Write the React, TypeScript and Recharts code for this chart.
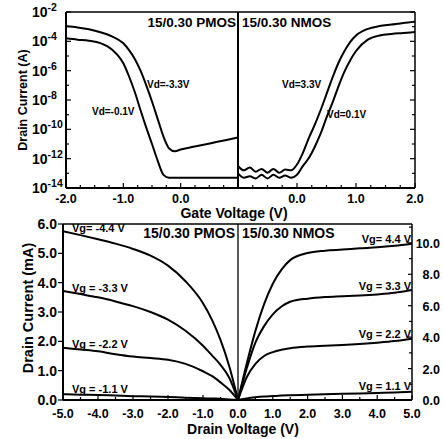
import { LineChart, Line, XAxis, YAxis, ReferenceLine } from "recharts"

const FONT = "'Liberation Sans', Arial, Helvetica, sans-serif"

// ---- top panel: transfer curves (Id vs Vg), log scale ----
const pmosVg = [-2.0, -1.8, -1.6, -1.4, -1.2, -1.0, -0.9, -0.8, -0.7, -0.6, -0.5, -0.4, -0.3, -0.2, -0.1, 0.0, 0.2, 0.4, 0.6, 0.8, 1.0]
const pmosIdVd33 = [1.1e-3, 8.9e-4, 6.6e-4, 4.2e-4, 2.2e-4, 7.4e-5, 2.5e-5, 6.3e-6, 1.0e-6, 1.0e-7, 7.9e-9, 5.0e-10, 3.2e-11, 5.0e-12, 3.2e-12, 4.2e-12, 6.2e-12, 8.9e-12, 1.3e-11, 1.9e-11, 2.8e-11]
const pmosIdVd01 = [1.6e-4, 1.3e-4, 1.1e-4, 7.6e-5, 2.8e-5, 3.2e-6, 4.0e-7, 3.5e-8, 2.0e-9, 1.3e-10, 1.0e-11, 7.1e-13, 7.9e-14, 5.0e-14, 5.0e-14, 5.0e-14, 5.0e-14, 5.0e-14, 5.0e-14, 5.0e-14, 5.0e-14]

const nmosVg = [-1.0, -0.9, -0.8, -0.7, -0.6, -0.5, -0.4, -0.3, -0.2, -0.1, 0.0, 0.1, 0.2, 0.3, 0.4, 0.5, 0.6, 0.7, 0.8, 0.9, 1.0, 1.2, 1.4, 1.6, 1.8, 2.0]
const nmosIdVd33 = [3.2e-13, 1.6e-13, 2.5e-13, 1.3e-13, 2.0e-13, 1.1e-13, 2.0e-13, 1.1e-13, 1.8e-13, 1.6e-13, 4.0e-13, 2.5e-12, 2.5e-11, 2.0e-10, 2.0e-9, 2.5e-8, 3.2e-7, 3.2e-6, 2.0e-5, 8.9e-5, 2.5e-4, 7.1e-4, 1.1e-3, 1.4e-3, 1.8e-3, 2.2e-3]
const nmosIdVd01 = [1.0e-13, 5.0e-14, 6.3e-14, 4.5e-14, 7.9e-14, 4.5e-14, 7.9e-14, 5.0e-14, 7.1e-14, 5.0e-14, 7.9e-14, 3.2e-13, 1.1e-12, 6.3e-12, 5.0e-11, 6.3e-10, 6.3e-9, 7.9e-8, 7.9e-7, 5.0e-6, 2.2e-5, 1.3e-4, 2.5e-4, 3.2e-4, 3.7e-4, 4.3e-4]

const logTicks = [1e-14, 1e-13, 1e-12, 1e-11, 1e-10, 1e-9, 1e-8, 1e-7, 1e-6, 1e-5, 1e-4, 1e-3, 1e-2]
const gateTicksLeft = [-2, -1.75, -1.5, -1.25, -1, -0.75, -0.5, -0.25, 0, 0.25, 0.5, 0.75, 1]
const gateTicksRight = [-1, -0.75, -0.5, -0.25, 0, 0.25, 0.5, 0.75, 1, 1.25, 1.5, 1.75, 2]
const gateLabelsLeft = [-2, -1, 0]
const gateLabelsRight = [0, 1, 2]

// ---- bottom panel: output curves (Id vs Vd), mA ----
const pmosVd = [-5, -4.5, -4, -3.5, -3, -2.5, -2, -1.5, -1, -0.75, -0.5, -0.25, 0]
const pmosVg44 = [5.75, 5.62, 5.48, 5.33, 5.15, 4.92, 4.58, 4.05, 3.3, 2.75, 2.05, 1.15, 0]
const pmosVg33 = [3.72, 3.61, 3.5, 3.36, 3.2, 3.0, 2.74, 2.36, 1.85, 1.53, 1.2, 0.76, 0]
const pmosVg22 = [1.78, 1.72, 1.66, 1.56, 1.48, 1.43, 1.37, 1.23, 0.98, 0.82, 0.6, 0.35, 0]
const pmosVg11 = [0.2, 0.18, 0.17, 0.15, 0.13, 0.12, 0.1, 0.08, 0.06, 0.05, 0.04, 0.02, 0]

const nmosVd = [0, 0.25, 0.5, 0.75, 1, 1.25, 1.5, 2, 2.5, 3, 3.5, 4, 4.5, 5]
const nmosVg44 = [0, 2.3, 4.4, 6.1, 7.4, 8.3, 8.9, 9.35, 9.5, 9.57, 9.65, 9.72, 9.82, 9.95]
const nmosVg33 = [0, 2.0, 3.65, 4.7, 5.45, 5.95, 6.25, 6.45, 6.55, 6.6, 6.65, 6.72, 6.82, 7.0]
const nmosVg22 = [0, 1.45, 2.3, 2.8, 3.05, 3.2, 3.3, 3.4, 3.45, 3.5, 3.57, 3.65, 3.75, 3.9]
const nmosVg11 = [0, 0.1, 0.17, 0.22, 0.25, 0.28, 0.3, 0.33, 0.36, 0.39, 0.42, 0.45, 0.48, 0.52]

const drainTicksLeft = [-5, -4.5, -4, -3.5, -3, -2.5, -2, -1.5, -1, -0.5, 0]
const drainTicksRight = [0, 0.5, 1, 1.5, 2, 2.5, 3, 3.5, 4, 4.5, 5]
const drainLabelsLeft = [-5, -4, -3, -2, -1]
const drainLabelsRight = [0, 1, 2, 3, 4, 5]
const pmosCurrentTicks = [0, 1, 2, 3, 4, 5, 6]
const nmosCurrentTicks = [0, 1, 2, 3, 4, 5, 6, 7, 8, 9, 10, 11]
const nmosCurrentLabels = [0, 2, 4, 6, 8, 10]

// annotation texts
const pmosVdLabels = ["Vd=-3.3V", "Vd=-0.1V"]
const nmosVdLabels = ["Vd=3.3V", "Vd=0.1V"]
const pmosVgLabels = ["Vg= -4.4 V", "Vg = -3.3 V", "Vg = -2.2 V", "Vg = -1.1 V"]
const nmosVgLabels = ["Vg= 4.4 V", "Vg = 3.3 V", "Vg = 2.2 V", "Vg = 1.1 V"]

const pmosTransfer = pmosVg.map((v, i) => ({ v, hi: pmosIdVd33[i], lo: pmosIdVd01[i] }))
const nmosTransfer = nmosVg.map((v, i) => ({ v, hi: nmosIdVd33[i], lo: nmosIdVd01[i] }))
const pmosOutput = pmosVd.map((v, i) => ({ v, a: pmosVg44[i], b: pmosVg33[i], c: pmosVg22[i], d: pmosVg11[i] }))
const nmosOutput = nmosVd.map((v, i) => ({ v, a: nmosVg44[i], b: nmosVg33[i], c: nmosVg22[i], d: nmosVg11[i] }))

const txt = { fontFamily: FONT, fontWeight: 700, fill: "#000" } as const

// x ticks drawn inward, label under the axis
const xTick = (labels: number[], size: number, dy: number) => (props: any) => {
	const { x, y, payload } = props
	const v = payload.value
	const major = Number.isInteger(v)
	return (
		<g>
			<line x1={x} x2={x} y1={y} y2={y - (major ? 5 : 3)} stroke="#000" strokeWidth={1.2} />
			{labels.includes(v) && (
				<text x={x} y={y + dy} textAnchor="middle" fontSize={size} {...txt}>
					{v.toFixed(1)}
				</text>
			)}
		</g>
	)
}

const logTick = (withLabel: boolean, side: number) => (props: any) => {
	const { x, y, payload } = props
	const exp = Math.round(Math.log10(payload.value))
	const major = exp % 2 === 0
	return (
		<g>
			<line x1={x} x2={x + side * (major ? 5 : 3)} y1={y} y2={y} stroke="#000" strokeWidth={1.2} />
			{withLabel && major && (
				<text x={x - 34} y={y + 5} fontSize={14} {...txt}>
					10
					<tspan dy={-6} fontSize={10.5}>
						{String(exp)}
					</tspan>
				</text>
			)}
		</g>
	)
}

const pmosYTick = (props: any) => {
	const { x, y, payload } = props
	return (
		<g>
			<line x1={x - 5} x2={x} y1={y} y2={y} stroke="#000" strokeWidth={1.2} />
			<text x={x - 6} y={y + 5} textAnchor="end" fontSize={14} {...txt}>
				{payload.value.toFixed(1)}
			</text>
		</g>
	)
}

const nmosYTick = (props: any) => {
	const { x, y, payload } = props
	const labeled = nmosCurrentLabels.includes(payload.value)
	return (
		<g>
			<line x1={x - (labeled ? 4 : 3)} x2={x} y1={y} y2={y} stroke="#000" strokeWidth={1.2} />
			{labeled && (
				<text x={x + 28} y={y + 5} textAnchor="end" fontSize={12.5} {...txt}>
					{payload.value.toFixed(1)}
				</text>
			)}
		</g>
	)
}

const curve = { type: "monotone" as const, stroke: "#000", strokeWidth: 2, dot: false, isAnimationActive: false }

export default function App() {
	return (
		<div style={{ position: "absolute", left: 0, top: 0, width: 443, height: 439, background: "#fff", fontFamily: FONT }}>
			{/* PMOS transfer */}
			<div style={{ position: "absolute", left: 0, top: 0 }}>
				<LineChart width={240} height={220} data={pmosTransfer} margin={{ top: 12, right: 2, left: 0, bottom: 0 }}>
					<XAxis type="number" dataKey="v" domain={[-2, 1]} ticks={gateTicksLeft} interval={0} height={32} tickSize={0} tickMargin={0} tickLine={false} axisLine={{ stroke: "#000", strokeWidth: 2 }} tick={xTick(gateLabelsLeft, 12.5, 15)} allowDataOverflow />
					<YAxis scale="log" domain={[1e-14, 1e-2]} ticks={logTicks} interval={0} width={66} tickSize={0} tickMargin={0} tickLine={false} axisLine={{ stroke: "#000", strokeWidth: 2 }} tick={logTick(true, 1)} allowDataOverflow />
					<ReferenceLine y={1e-2} stroke="#000" strokeWidth={1.5} />
					<ReferenceLine x={1} stroke="#000" strokeWidth={2} />
					<Line dataKey="hi" {...curve} />
					<Line dataKey="lo" {...curve} />
				</LineChart>
			</div>
			{/* NMOS transfer */}
			<div style={{ position: "absolute", left: 200, top: 0 }}>
				<LineChart width={243} height={220} data={nmosTransfer} margin={{ top: 12, right: 0, left: 38, bottom: 0 }}>
					<XAxis type="number" dataKey="v" domain={[-1, 2]} ticks={gateTicksRight} interval={0} height={32} tickSize={0} tickMargin={0} tickLine={false} axisLine={{ stroke: "#000", strokeWidth: 2 }} tick={xTick(gateLabelsRight, 12.5, 15)} allowDataOverflow />
					<YAxis yAxisId="r" orientation="right" scale="log" domain={[1e-14, 1e-2]} ticks={logTicks} interval={0} width={28} tickSize={0} tickMargin={0} tickLine={false} axisLine={{ stroke: "#000", strokeWidth: 1.5 }} tick={logTick(false, -1)} allowDataOverflow />
					<ReferenceLine yAxisId="r" y={1e-2} stroke="#000" strokeWidth={1.5} />
					<Line yAxisId="r" dataKey="hi" {...curve} />
					<Line yAxisId="r" dataKey="lo" {...curve} />
				</LineChart>
			</div>
			{/* PMOS output */}
			<div style={{ position: "absolute", left: 0, top: 212 }}>
				<LineChart width={240} height={227} data={pmosOutput} margin={{ top: 12, right: 2, left: 0, bottom: 0 }}>
					<XAxis type="number" dataKey="v" domain={[-5, 0]} ticks={drainTicksLeft} interval={0} height={39} tickSize={0} tickMargin={0} tickLine={false} axisLine={{ stroke: "#000", strokeWidth: 2 }} tick={xTick(drainLabelsLeft, 12.5, 18)} allowDataOverflow />
					<YAxis type="number" domain={[0, 6]} ticks={pmosCurrentTicks} interval={0} width={63} tickSize={0} tickMargin={0} tickLine={false} axisLine={{ stroke: "#000", strokeWidth: 2 }} tick={pmosYTick} allowDataOverflow />
					<ReferenceLine y={6} stroke="#000" strokeWidth={1.5} />
					<ReferenceLine x={0} stroke="#000" strokeWidth={1.3} />
					<Line dataKey="a" {...curve} />
					<Line dataKey="b" {...curve} />
					<Line dataKey="c" {...curve} />
					<Line dataKey="d" {...curve} />
				</LineChart>
			</div>
			{/* NMOS output */}
			<div style={{ position: "absolute", left: 200, top: 212 }}>
				<LineChart width={243} height={227} data={nmosOutput} margin={{ top: 12, right: 0, left: 38, bottom: 0 }}>
					<XAxis type="number" dataKey="v" domain={[0, 5]} ticks={drainTicksRight} interval={0} height={39} tickSize={0} tickMargin={0} tickLine={false} axisLine={{ stroke: "#000", strokeWidth: 2 }} tick={xTick(drainLabelsRight, 12.5, 18)} allowDataOverflow />
					<YAxis yAxisId="r" orientation="right" type="number" domain={[0, 11.2]} ticks={nmosCurrentTicks} interval={0} width={31} tickSize={0} tickMargin={0} tickLine={false} axisLine={{ stroke: "#000", strokeWidth: 1.5 }} tick={nmosYTick} allowDataOverflow />
					<ReferenceLine yAxisId="r" y={11.2} stroke="#000" strokeWidth={1.5} />
					<Line yAxisId="r" dataKey="a" {...curve} />
					<Line yAxisId="r" dataKey="b" {...curve} />
					<Line yAxisId="r" dataKey="c" {...curve} />
					<Line yAxisId="r" dataKey="d" {...curve} />
				</LineChart>
			</div>
			{/* titles and curve labels */}
			<svg width={443} height={439} style={{ position: "absolute", left: 0, top: 0, pointerEvents: "none" }}>
				<text x={236} y={27} textAnchor="end" fontSize={13.5} {...txt}>15/0.30 PMOS</text>
				<text x={242} y={27} fontSize={13.5} {...txt}>15/0.30 NMOS</text>
				<text x={147} y={88} fontSize={10} {...txt}>{pmosVdLabels[0]}</text>
				<text x={92} y={115} fontSize={10} {...txt}>{pmosVdLabels[1]}</text>
				<text x={282} y={88} fontSize={10} {...txt}>{nmosVdLabels[0]}</text>
				<text x={327} y={118} fontSize={10} {...txt}>{nmosVdLabels[1]}</text>
				<text x={234} y={218} textAnchor="middle" fontSize={14} {...txt}>Gate Voltage (V)</text>
				<text transform="translate(27,100) rotate(-90)" textAnchor="middle" fontSize={12.5} {...txt}>Drain Current (A)</text>

				<text x={235} y={238} textAnchor="end" fontSize={14} {...txt}>15/0.30 PMOS</text>
				<text x={242} y={238} fontSize={14} {...txt}>15/0.30 NMOS</text>
				<text x={72} y={232} fontSize={11} {...txt}>{pmosVgLabels[0]}</text>
				<text x={72} y={292} fontSize={11} {...txt}>{pmosVgLabels[1]}</text>
				<text x={72} y={348} fontSize={11} {...txt}>{pmosVgLabels[2]}</text>
				<text x={72} y={393} fontSize={11} {...txt}>{pmosVgLabels[3]}</text>
				<text x={411} y={243} textAnchor="end" fontSize={11} {...txt}>{nmosVgLabels[0]}</text>
				<text x={411} y={290} textAnchor="end" fontSize={11} {...txt}>{nmosVgLabels[1]}</text>
				<text x={411} y={338} textAnchor="end" fontSize={11} {...txt}>{nmosVgLabels[2]}</text>
				<text x={411} y={390} textAnchor="end" fontSize={11} {...txt}>{nmosVgLabels[3]}</text>
				<text x={243} y={434} textAnchor="middle" fontSize={14} {...txt}>Drain Voltage (V)</text>
				<text transform="translate(33,308) rotate(-90)" textAnchor="middle" fontSize={14.5} {...txt}>Drain Current (mA)</text>
			</svg>
		</div>
	)
}
